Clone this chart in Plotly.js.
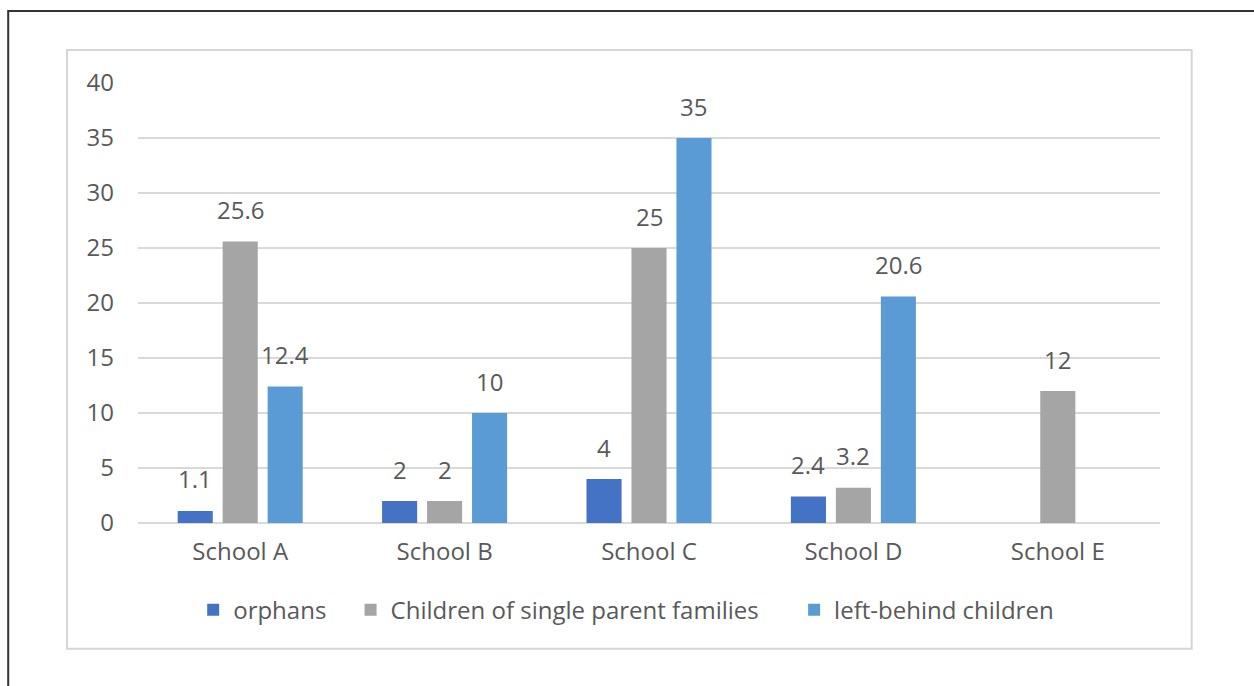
<!DOCTYPE html>
<html>
<head>
<meta charset="utf-8">
<script src="https://cdn.plot.ly/plotly-3.0.1.min.js"></script>
<style>
  html, body { margin: 0; padding: 0; background: #ffffff; }
  #chart { width: 1254px; height: 686px; }
</style>
</head>
<body>
<div id="chart"></div>
<script>
// Categories and series values
const schools = ["School A", "School B", "School C", "School D", "School E"];
const orphans = [1.1, 2, 4, 2.4, null];
const singleParent = [25.6, 2, 25, 3.2, 12];
const leftBehind = [12.4, 10, 35, 20.6, null];
const yTicks = [0, 5, 10, 15, 20, 25, 30, 35, 40];

const seriesNames = ["orphans", "Children of single parent families", "left-behind children"];
const seriesValues = [orphans, singleParent, leftBehind];
const seriesColors = ["#4472C4", "#A5A5A5", "#5B9BD5"];
const legendIds = ["legend", "legend2", "legend3"];
const legendX = [0.054, 0.208, 0.642];

const FONT = "Open Sans, Noto Sans, sans-serif";
const TEXT_GRAY = "#595959";
const FONT_SIZE = 24;

const W = 1254, H = 686;
const margin = { l: 138, r: 94, t: 83, b: 163, pad: 0 };
const bargap = 0.34;
const bargroupgap = 0.22;

// width of one bar slot inside a category group, in pixels
const plotW = W - margin.l - margin.r;
const slotPx = (plotW / schools.length) * (1 - bargap) / seriesValues.length;

const data = seriesValues.map((vals, i) => ({
  type: "bar",
  name: seriesNames[i],
  legend: legendIds[i],
  x: schools,
  y: vals,
  marker: { color: seriesColors[i] },
  hoverinfo: "x+y+name"
}));

// value labels above each bar
const annotations = [];
seriesValues.forEach((vals, i) => {
  vals.forEach((v, j) => {
    if (v === null) return;
    annotations.push({
      xref: "x", yref: "y",
      x: schools[j], y: v,
      text: String(v),
      showarrow: false,
      xanchor: "center", yanchor: "middle",
      xshift: (i - (seriesValues.length - 1) / 2) * slotPx,
      yshift: 32,
      font: { family: FONT, size: FONT_SIZE, color: TEXT_GRAY }
    });
  });
});

function legendBox(x) {
  return {
    orientation: "h",
    x: x, xanchor: "left",
    y: -0.198, yanchor: "middle",
    font: { family: FONT, size: FONT_SIZE, color: TEXT_GRAY },
    bgcolor: "rgba(0,0,0,0)"
  };
}

const layout = {
  width: W,
  height: H,
  margin: margin,
  paper_bgcolor: "#ffffff",
  plot_bgcolor: "#ffffff",
  font: { family: FONT, size: FONT_SIZE, color: TEXT_GRAY },
  barmode: "group",
  bargap: bargap,
  bargroupgap: bargroupgap,
  showlegend: true,
  legend: legendBox(legendX[0]),
  legend2: legendBox(legendX[1]),
  legend3: legendBox(legendX[2]),
  xaxis: {
    type: "category",
    showgrid: false,
    showline: false,
    zeroline: false,
    ticks: "",
    ticklabelstandoff: 12,
    tickfont: { family: FONT, size: FONT_SIZE, color: TEXT_GRAY }
  },
  yaxis: {
    range: [0, 40],
    tickvals: yTicks,
    ticktext: yTicks.map(String),
    showgrid: true,
    gridcolor: "#D9D9D9",
    gridwidth: 2,
    zeroline: true,
    zerolinecolor: "#D9D9D9",
    zerolinewidth: 2,
    showline: false,
    ticks: "",
    ticklabelstandoff: 23,
    tickfont: { family: FONT, size: FONT_SIZE, color: TEXT_GRAY }
  },
  annotations: annotations,
  shapes: [
    // light chart-area frame
    {
      type: "rect", xref: "paper", yref: "paper",
      x0: -0.0695, x1: 1.031, y0: -0.286, y1: 1.075,
      line: { color: "#D6D6D6", width: 2 },
      fillcolor: "rgba(0,0,0,0)",
      layer: "below"
    },
    // dark outer border (top and left edges)
    {
      type: "path", xref: "paper", yref: "paper",
      path: "M -0.127 -0.40 L -0.127 1.1636 L 1.2 1.1636",
      line: { color: "#333333", width: 2 }
    }
  ]
};

Plotly.newPlot("chart", data, layout, { displayModeBar: false, staticPlot: true });
</script>
</body>
</html>
